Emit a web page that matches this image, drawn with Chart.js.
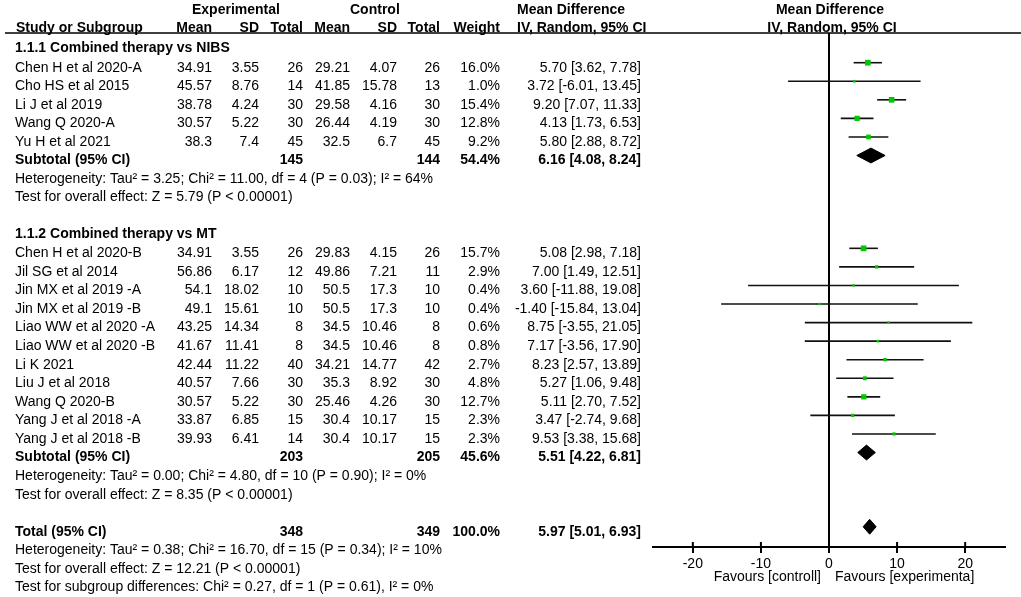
<!DOCTYPE html>
<html>
<head>
<meta charset="utf-8">
<script src="https://cdn.jsdelivr.net/npm/chart.js@4.4.1/dist/chart.umd.min.js"></script>
<style>
  html, body { margin: 0; padding: 0; background: #fff; }
  canvas { display: block; }
</style>
</head>
<body>
<canvas id="forest" width="1021" height="597"></canvas>
<script>
// Study level data
const studyNames = ['Chen H et al 2020-A', 'Cho HS et al 2015', 'Li J et al 2019', 'Wang Q 2020-A', 'Yu H et al 2021',
  'Chen H et al 2020-B', 'Jil SG et al 2014', 'Jin MX et al 2019 -A', 'Jin MX et al 2019 -B', 'Liao WW et al 2020 -A',
  'Liao WW et al 2020 -B', 'Li K 2021', 'Liu J et al 2018', 'Wang Q 2020-B', 'Yang J et al 2018 -A', 'Yang J et al 2018 -B'];
const studyRows = [3, 4, 5, 6, 7, 13, 14, 15, 16, 17, 18, 19, 20, 21, 22, 23];
const expMean = ['34.91', '45.57', '38.78', '30.57', '38.3', '34.91', '56.86', '54.1', '49.1', '43.25', '41.67', '42.44', '40.57', '30.57', '33.87', '39.93'];
const expSD = ['3.55', '8.76', '4.24', '5.22', '7.4', '3.55', '6.17', '18.02', '15.61', '14.34', '11.41', '11.22', '7.66', '5.22', '6.85', '6.41'];
const expTotal = [26, 14, 30, 30, 45, 26, 12, 10, 10, 8, 8, 40, 30, 30, 15, 14];
const ctlMean = ['29.21', '41.85', '29.58', '26.44', '32.5', '29.83', '49.86', '50.5', '50.5', '34.5', '34.5', '34.21', '35.3', '25.46', '30.4', '30.4'];
const ctlSD = ['4.07', '15.78', '4.16', '4.19', '6.7', '4.15', '7.21', '17.3', '17.3', '10.46', '10.46', '14.77', '8.92', '4.26', '10.17', '10.17'];
const ctlTotal = [26, 13, 30, 30, 45, 26, 11, 10, 10, 8, 8, 42, 30, 30, 15, 15];
const weights = [16.0, 1.0, 15.4, 12.8, 9.2, 15.7, 2.9, 0.4, 0.4, 0.6, 0.8, 2.7, 4.8, 12.7, 2.3, 2.3];
const meanDiff = [5.70, 3.72, 9.20, 4.13, 5.80, 5.08, 7.00, 3.60, -1.40, 8.75, 7.17, 8.23, 5.27, 5.11, 3.47, 9.53];
const ciLow = [3.62, -6.01, 7.07, 1.73, 2.88, 2.98, 1.49, -11.88, -15.84, -3.55, -3.56, 2.57, 1.06, 2.70, -2.74, 3.38];
const ciHigh = [7.78, 13.45, 11.33, 6.53, 8.72, 7.18, 12.51, 19.08, 13.04, 21.05, 17.90, 13.89, 9.48, 7.52, 9.68, 15.68];

// Pooled estimates (two subtotals and the overall total)
const pooledLabels = ['Subtotal (95% CI)', 'Subtotal (95% CI)', 'Total (95% CI)'];
const pooledRows = [8, 24, 28];
const pooledExpTotal = [145, 203, 348];
const pooledCtlTotal = [144, 205, 349];
const pooledWeight = [54.4, 45.6, 100.0];
const pooledMean = [6.16, 5.51, 5.97];
const pooledLow = [4.08, 4.22, 5.01];
const pooledHigh = [8.24, 6.81, 6.93];

// Subgroup titles and statistics lines
const groupTitles = ['1.1.1 Combined therapy vs NIBS', '1.1.2 Combined therapy vs MT'];
const groupRows = [2, 12];
const statLines = [
  'Heterogeneity: Tau\u00b2 = 3.25; Chi\u00b2 = 11.00, df = 4 (P = 0.03); I\u00b2 = 64%',
  'Test for overall effect: Z = 5.79 (P < 0.00001)',
  'Heterogeneity: Tau\u00b2 = 0.00; Chi\u00b2 = 4.80, df = 10 (P = 0.90); I\u00b2 = 0%',
  'Test for overall effect: Z = 8.35 (P < 0.00001)',
  'Heterogeneity: Tau\u00b2 = 0.38; Chi\u00b2 = 16.70, df = 15 (P = 0.34); I\u00b2 = 10%',
  'Test for overall effect: Z = 12.21 (P < 0.00001)',
  'Test for subgroup differences: Chi\u00b2 = 0.27, df = 1 (P = 0.61), I\u00b2 = 0%'
];
const statRows = [9, 10, 25, 26, 29, 30, 31];

// Axis
const tickValues = [-20, -10, 0, 10, 20];
const favoursLeft = 'Favours [controll]';
const favoursRight = 'Favours [experimenta]';

const FONT = '"Liberation Sans", Arial, Helvetica, sans-serif';
const GREEN = '#00c800';

function fmtCI(m, lo, hi) {
  return m.toFixed(2) + ' [' + lo.toFixed(2) + ', ' + hi.toFixed(2) + ']';
}

// one dataset per confidence interval line
const ciSets = studyNames.map((name, i) => ({
  label: name,
  showLine: true,
  data: [{ x: ciLow[i], y: studyRows[i] }, { x: ciHigh[i], y: studyRows[i] }],
  borderColor: '#111',
  borderWidth: 1.6,
  pointRadius: 0,
  order: 2
}));

// weight squares
const squareSet = {
  label: 'estimates',
  data: meanDiff.map((m, i) => ({ x: m, y: studyRows[i] })),
  pointStyle: 'rect',
  backgroundColor: GREEN,
  borderWidth: 0,
  pointRadius: weights.map(w => (1.7 + Math.sqrt(w)) / Math.SQRT2),
  order: 1
};

// pooled diamonds
const diamondHalf = 0.4;
const diamondSets = pooledMean.map((m, i) => {
  const r = pooledRows[i];
  return {
    label: pooledLabels[i],
    showLine: true,
    data: [{ x: pooledLow[i], y: r }, { x: m, y: r - diamondHalf }, { x: pooledHigh[i], y: r },
           { x: m, y: r + diamondHalf }, { x: pooledLow[i], y: r }],
    borderColor: '#000',
    backgroundColor: '#000',
    borderWidth: 1,
    pointRadius: 0,
    fill: 'shape',
    order: 1
  };
});

// draws the table columns, headers and axis captions
const tablePlugin = {
  id: 'forestTable',
  afterDraw(chart) {
    const ctx = chart.ctx;
    const ys = chart.scales.y;
    const xs = chart.scales.x;
    const area = chart.chartArea;
    const rowY = r => ys.getPixelForValue(r) + 5;
    const text = (s, x, y, align, bold) => {
      ctx.font = (bold ? 'bold ' : '') + '14px ' + FONT;
      ctx.textAlign = align;
      ctx.fillText(s, x, y);
    };
    ctx.save();
    ctx.fillStyle = '#000';
    ctx.textBaseline = 'middle';

    // header line
    ctx.strokeStyle = '#000';
    ctx.lineWidth = 1.5;
    ctx.beginPath();
    ctx.moveTo(5, area.top);
    ctx.lineTo(chart.width, area.top);
    ctx.stroke();

    // column headers
    const h0 = rowY(0) - 2, h1 = rowY(1) - 2;
    const zeroX = xs.getPixelForValue(0);
    text('Experimental', 192, h0, 'left', true);
    text('Control', 350, h0, 'left', true);
    text('Mean Difference', 517, h0, 'left', true);
    text('Mean Difference', zeroX + 1, h0, 'center', true);
    text('Study or Subgroup', 16, h1, 'left', true);
    text('Mean', 212, h1, 'right', true);
    text('SD', 259, h1, 'right', true);
    text('Total', 303, h1, 'right', true);
    text('Mean', 350, h1, 'right', true);
    text('SD', 397, h1, 'right', true);
    text('Total', 440, h1, 'right', true);
    text('Weight', 500, h1, 'right', true);
    text('IV, Random, 95% CI', 517, h1, 'left', true);
    text('IV, Random, 95% CI', zeroX + 3, h1, 'center', true);

    groupTitles.forEach((g, i) => text(g, 15, rowY(groupRows[i]) - 1, 'left', true));

    studyNames.forEach((name, i) => {
      const y = rowY(studyRows[i]);
      text(name, 15, y, 'left', false);
      text(expMean[i], 212, y, 'right', false);
      text(expSD[i], 259, y, 'right', false);
      text(String(expTotal[i]), 303, y, 'right', false);
      text(ctlMean[i], 350, y, 'right', false);
      text(ctlSD[i], 397, y, 'right', false);
      text(String(ctlTotal[i]), 440, y, 'right', false);
      text(weights[i].toFixed(1) + '%', 500, y, 'right', false);
      text(fmtCI(meanDiff[i], ciLow[i], ciHigh[i]), 641, y, 'right', false);
    });

    pooledLabels.forEach((lab, i) => {
      const y = rowY(pooledRows[i]);
      text(lab, 15, y, 'left', true);
      text(String(pooledExpTotal[i]), 303, y, 'right', true);
      text(String(pooledCtlTotal[i]), 440, y, 'right', true);
      text(pooledWeight[i].toFixed(1) + '%', 500, y, 'right', true);
      text(fmtCI(pooledMean[i], pooledLow[i], pooledHigh[i]), 641, y, 'right', true);
    });

    statLines.forEach((s, i) => text(s, 15, rowY(statRows[i]), 'left', false));

    // upper half of the tick marks
    ctx.lineWidth = 2;
    tickValues.forEach(v => {
      const px = xs.getPixelForValue(v);
      ctx.beginPath();
      ctx.moveTo(px, area.bottom - 5);
      ctx.lineTo(px, area.bottom);
      ctx.stroke();
    });

    // favours captions
    text(favoursLeft, zeroX - 8, area.bottom + 30, 'right', false);
    text(favoursRight, zeroX + 6, area.bottom + 30, 'left', false);
    ctx.restore();
  }
};

new Chart(document.getElementById('forest'), {
  type: 'scatter',
  data: { datasets: [...ciSets, squareSet, ...diamondSets] },
  options: {
    responsive: false,
    animation: false,
    layout: { padding: { left: 653, right: 16, top: 33, bottom: 0 } },
    plugins: {
      legend: { display: false },
      tooltip: { enabled: false }
    },
    scales: {
      x: {
        type: 'linear',
        min: -25.85,
        max: 25.85,
        afterBuildTicks: s => { s.ticks = tickValues.map(v => ({ value: v })); },
        afterFit: s => { s.height = 50; },
        border: { display: true, color: '#000', width: 2 },
        grid: {
          drawOnChartArea: true,
          color: c => (c.tick && c.tick.value === 0 ? '#000' : 'rgba(0,0,0,0)'),
          lineWidth: 2,
          drawTicks: true,
          tickLength: 6,
          tickColor: '#000',
          tickWidth: 2
        },
        ticks: {
          color: '#000',
          font: { family: FONT, size: 14 },
          padding: 3,
          maxRotation: 0,
          callback: v => String(v)
        }
      },
      y: {
        type: 'linear',
        display: false,
        reverse: true,
        min: 1.4,
        max: 29.09
      }
    }
  },
  plugins: [tablePlugin]
});
</script>
</body>
</html>
